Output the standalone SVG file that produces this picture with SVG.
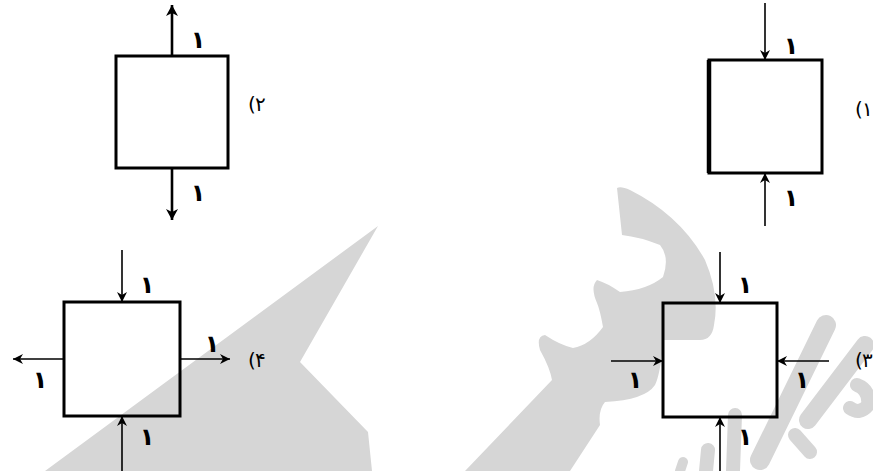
<svg xmlns="http://www.w3.org/2000/svg" width="873" height="471" viewBox="0 0 873 471">
<style>
.wm{fill:#d6d6d6;stroke:none}
.wms{fill:none;stroke:#d6d6d6;stroke-linecap:round}
.box{fill:none;stroke:#000;stroke-width:3}
.ar{stroke:#000;stroke-width:1.6;fill:none;marker-end:url(#ah)}
.arb{stroke:#000;stroke-width:2.6;fill:none;marker-end:url(#ahb)}
.n{font-family:"DejaVu Sans",sans-serif;font-weight:bold;font-size:24px;fill:#000;text-anchor:middle}
.lb{font-family:"DejaVu Sans",sans-serif;font-size:20px;fill:#000}
</style>
<defs>
<marker id="ah" markerUnits="userSpaceOnUse" markerWidth="12" markerHeight="10" refX="10" refY="5" orient="auto">
<path d="M0,0 L10,5 L0,10 L3,5 Z" fill="#000"/>
</marker>
<marker id="ahb" markerUnits="userSpaceOnUse" markerWidth="12" markerHeight="12" refX="11" refY="6" orient="auto">
<path d="M0,0 L11,6 L0,12 L3,6 Z" fill="#000"/>
</marker>
</defs>
<rect width="873" height="471" fill="#fff"/>
<g id="watermark">
<path class="wm" d="M378,226 L300,362 L368,432 L372,471 L45,471 Z"/>
<path class="wm" d="M617,188 Q621,186 630,190 Q680,215 705,260 Q720,295 714,325 Q712,340 700,340 L663,340 L663,345 Q660,375 655,385 Q645,400 605,402 Q598,410 600,425 L570,471 L465,471 L552,380 Q550,368 540,350 Q536,336 545,335 Q560,345 573,348 Q590,345 603,327 Q600,310 597,303 Q590,287 597,280 Q607,283 620,292 Q647,290 663,277 Q670,257 660,245 Q640,237 622,235 Z"/>
<path class="wms" stroke-width="20" d="M826,325 L760,460"/>
<path class="wms" stroke-width="18" d="M865,345 L808,420"/>
<path class="wms" stroke-width="14" d="M857,385 Q870,390 868,405 Q860,415 850,408"/>
<path class="wms" stroke-width="14" d="M795,435 L810,452"/>
<path class="wms" stroke-width="14" d="M735,415 L733,471"/>
<path class="wms" stroke-width="14" d="M708,450 L706,471"/>
<path class="wms" stroke-width="10" d="M683,462 L680,471"/>
</g>
<g id="node2">
<rect class="box" x="116" y="56" width="112" height="112"/>
<text class="n" x="198" y="48">۱</text>
<text class="n" x="198" y="201">۱</text>
<text class="lb" x="248" y="111">(</text>
<text class="lb" x="255" y="111">۲</text>
</g>
<g id="node1">
<rect class="box" x="709" y="60" width="113" height="113"/>
<line x1="709" y1="60" x2="709" y2="173" stroke="#000" stroke-width="4.5"/>
<text class="n" x="791" y="54">۱</text>
<text class="n" x="791" y="206">۱</text>
<text class="lb" x="855" y="116">(</text>
<text class="lb" x="862" y="116">۱</text>
</g>
<g id="node4">
<rect class="box" x="64" y="302" width="116" height="114"/>
<text class="n" x="147" y="293">۱</text>
<text class="n" x="212" y="352">۱</text>
<text class="n" x="40" y="388">۱</text>
<text class="n" x="147" y="445">۱</text>
<text class="lb" x="248" y="367">(</text>
<text class="lb" x="255" y="367">۴</text>
</g>
<g id="node3">
<rect class="box" x="663" y="303" width="114" height="114"/>
<text class="n" x="745" y="293">۱</text>
<text class="n" x="635" y="388">۱</text>
<text class="n" x="802" y="388">۱</text>
<text class="n" x="745" y="445">۱</text>
<text class="lb" x="855" y="367">(</text>
<text class="lb" x="862" y="367">۳</text>
</g>
<g id="connectors">
<line class="arb" x1="172" y1="56" x2="172" y2="5"/>
<line class="arb" x1="172" y1="168" x2="172" y2="220"/>
<line class="ar" x1="765" y1="3" x2="765" y2="60"/>
<line class="ar" x1="765" y1="226" x2="765" y2="173"/>
<line class="ar" x1="122" y1="250" x2="122" y2="302"/>
<line class="ar" x1="122" y1="471" x2="122" y2="416"/>
<line class="ar" x1="64" y1="359" x2="13" y2="359"/>
<line class="ar" x1="180" y1="359" x2="230" y2="359"/>
<line class="ar" x1="720" y1="252" x2="720" y2="303"/>
<line class="ar" x1="720" y1="471" x2="720" y2="417"/>
<line class="ar" x1="611" y1="361" x2="663" y2="361"/>
<line class="ar" x1="829" y1="361" x2="777" y2="361"/>
</g>
</svg>
